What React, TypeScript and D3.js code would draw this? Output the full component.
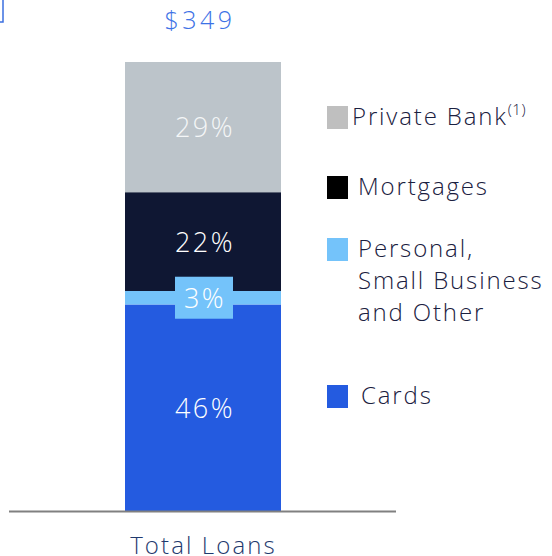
import React from "react";
import * as d3 from "d3";

const categories = ["Total Loans"];
const segments = ["Cards", "Personal, Small Business and Other", "Mortgages", "Private Bank"];
const shares = [46, 3, 22, 29];
const totalLabel = "$349";
const legendItems = ["Private Bank", "Mortgages", "Personal,|Small Business|and Other", "Cards"];
const segColors = ["#245be0", "#74c3fa", "#0f1733", "#bcc4ca"];
const legendColors = ["#bfbfbf", "#000000", "#74c3fa", "#245be0"];

const W = 552;
const H = 556;
const FONT = "'Open Sans', Roboto, sans-serif";

export default function App() {
  const x = d3.scaleBand().domain(categories).range([9, 396]).paddingInner(0).paddingOuter(0.3).align(0.5);
  const bw = 156;
  const cx = 203;
  const y = d3.scaleLinear().domain([0, 100]).range([511, 62]);
  const stack = d3.stack<any>().keys(segments)([Object.fromEntries(segments.map((s, i) => [s, shares[i]]))]);
  const legendY = [118, 188, 250, 397];
  const legendTextX = [352, 358, 358, 361];

  return (
    <svg width={W} height={H} style={{ position: "absolute", left: 0, top: 0 }} fontFamily={FONT}>
      <rect x={-20} y={-10} width={23} height={32} fill="none" stroke="#3b6fe0" strokeWidth={1.5} />
      {stack.map((layer, i) => {
        const d = layer[0];
        const y0 = y(d[1]);
        const y1 = y(d[0]);
        return (
          <rect key={segments[i]} x={cx - bw / 2} y={y0} width={bw} height={y1 - y0} fill={segColors[i]} />
        );
      })}
      {stack.map((layer, i) => {
        const d = layer[0];
        const mid = (y(d[0]) + y(d[1])) / 2;
        const small = shares[i] < 5;
        return (
          <g key={"l" + i}>
            {small && <rect x={175} y={mid - 21} width={58} height={42} fill={segColors[i]} />}
            <text x={cx + 2} y={mid + 10} textAnchor="middle" fontSize={27} fontWeight={300}
              fill={i === 3 ? "#f4f6f7" : "#ffffff"} letterSpacing={2.5}>{shares[i]}%</text>
          </g>
        );
      })}
      <text x={200} y={29} textAnchor="middle" fontSize={25} fontWeight={300} fill="#3d72e6" letterSpacing={3.5}>{totalLabel}</text>
      <line x1={9} x2={396} y1={511.5} y2={511.5} stroke="#808080" strokeWidth={2} />
      <text x={x(categories[0])! + x.bandwidth() / 2 + 1} y={554} textAnchor="middle" fontSize={24} fontWeight={300} fill="#1f3a6e" letterSpacing={2.1}>{categories[0]}</text>
      {legendItems.map((item, i) => {
        const lines = item.split("|");
        return (
          <g key={item}>
            <rect x={327} y={legendY[i] - 12} width={21} height={23} fill={legendColors[i]} />
            <text x={legendTextX[i]} y={legendY[i] + 7} fontSize={24} fontWeight={300} fill="#1a2040" letterSpacing={1.85}>
              {lines.map((ln, j) => (
                <tspan key={j} x={legendTextX[i]} dy={j === 0 ? 0 : 32}>{ln}</tspan>
              ))}
              {i === 0 && <tspan fontSize={15} dy={-10} letterSpacing={0.5}>(1)</tspan>}
            </text>
          </g>
        );
      })}
    </svg>
  );
}
